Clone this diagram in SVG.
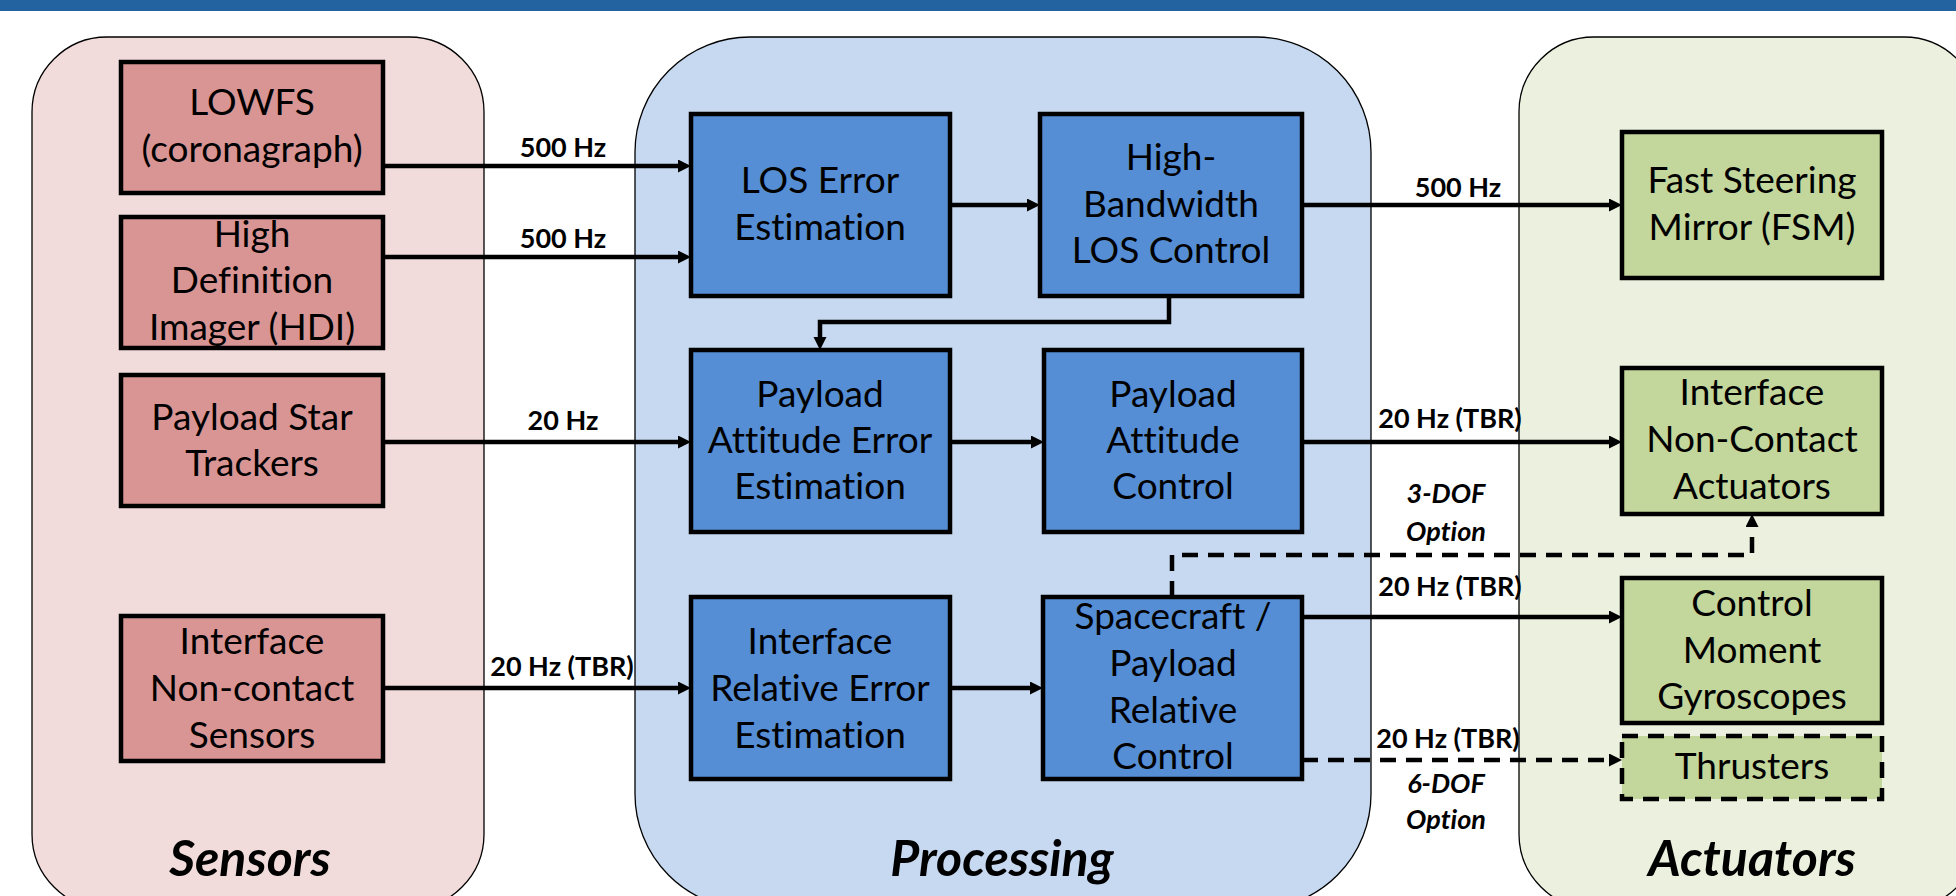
<svg xmlns="http://www.w3.org/2000/svg" width="1956" height="896" viewBox="0 0 1956 896">
<defs>
<style>
text{font-variant-ligatures:none;font-feature-settings:"liga" 0}
.panel{stroke:#000;stroke-width:1.3}
.sbox{fill:#d99594;stroke:#000;stroke-width:4.5}
.pbox{fill:#558ed5;stroke:#000;stroke-width:4.5}
.abox{fill:#c3d69b;stroke:#000;stroke-width:4.5}
.t{font-family:Lato,"Liberation Sans",sans-serif;font-size:37px;fill:#000;text-anchor:middle}
.lbl{font-family:Lato,"Liberation Sans",sans-serif;font-size:27px;font-weight:bold;fill:#000;text-anchor:middle}
.opt{font-family:Lato,"Liberation Sans",sans-serif;font-size:27px;font-weight:bold;font-style:italic;fill:#000;text-anchor:middle}
.title{font-family:Lato,"Liberation Sans",sans-serif;font-size:50px;font-weight:bold;font-style:italic;fill:#000;text-anchor:middle}
.c{fill:none;stroke:#000;stroke-width:4.5}
.d{fill:none;stroke:#000;stroke-width:4.5;stroke-dasharray:16 10}
</style>
<marker id="ah" markerUnits="userSpaceOnUse" markerWidth="14" markerHeight="14" refX="3" refY="6.5" orient="auto">
<path d="M0,0 L13,6.5 L0,13 z" fill="#000"/>
</marker>
</defs>
<rect x="0" y="0" width="1956" height="11" fill="#2364a0"/>

<g id="panel-sensors">
<rect class="panel" x="32" y="37" width="452" height="872" rx="75" ry="75" fill="#f2dcdb"/>
<text class="title" x="250" y="876">Sensors</text>
</g>
<g id="panel-processing">
<rect class="panel" x="635" y="37" width="736" height="872" rx="115" ry="115" fill="#c6d9f1"/>
<text class="title" x="1002" y="876">Processing</text>
</g>
<g id="panel-actuators">
<rect class="panel" x="1519" y="37" width="460" height="872" rx="75" ry="75" fill="#ebf1de"/>
<text class="title" x="1752" y="876">Actuators</text>
</g>

<g id="lowfs"><rect class="sbox" x="121" y="62" width="262" height="131"/>
<text class="t" x="252" y="115">LOWFS</text><text class="t" x="252" y="162">(coronagraph)</text></g>
<g id="hdi"><rect class="sbox" x="121" y="217" width="262" height="131"/>
<text class="t" x="252" y="247">High</text><text class="t" x="252" y="293">Definition</text><text class="t" x="252" y="340">Imager (HDI)</text></g>
<g id="star-trackers"><rect class="sbox" x="121" y="375" width="262" height="131"/>
<text class="t" x="252" y="430">Payload Star</text><text class="t" x="252" y="476">Trackers</text></g>
<g id="interface-sensors"><rect class="sbox" x="121" y="616" width="262" height="145"/>
<text class="t" x="252" y="654">Interface</text><text class="t" x="252" y="701">Non-contact</text><text class="t" x="252" y="748">Sensors</text></g>

<g id="los-error"><rect class="pbox" x="691" y="114" width="259" height="182"/>
<text class="t" x="820" y="193">LOS Error</text><text class="t" x="820" y="240">Estimation</text></g>
<g id="hbw-los"><rect class="pbox" x="1040" y="114" width="262" height="182"/>
<text class="t" x="1171" y="170">High-</text><text class="t" x="1171" y="217">Bandwidth</text><text class="t" x="1171" y="263">LOS Control</text></g>
<g id="payload-att-err"><rect class="pbox" x="691" y="350" width="259" height="182"/>
<text class="t" x="820" y="407">Payload</text><text class="t" x="820" y="453">Attitude Error</text><text class="t" x="820" y="499">Estimation</text></g>
<g id="payload-att-ctrl"><rect class="pbox" x="1044" y="350" width="258" height="182"/>
<text class="t" x="1173" y="407">Payload</text><text class="t" x="1173" y="453">Attitude</text><text class="t" x="1173" y="499">Control</text></g>
<g id="interface-rel-err"><rect class="pbox" x="691" y="597" width="259" height="182"/>
<text class="t" x="820" y="654">Interface</text><text class="t" x="820" y="701">Relative Error</text><text class="t" x="820" y="748">Estimation</text></g>
<g id="sc-rel-ctrl"><rect class="pbox" x="1043" y="597" width="259" height="182"/>
<text class="t" x="1173" y="629">Spacecraft /</text><text class="t" x="1173" y="676">Payload</text><text class="t" x="1173" y="723">Relative</text><text class="t" x="1173" y="769">Control</text></g>

<g id="fsm"><rect class="abox" x="1622" y="132" width="260" height="146"/>
<text class="t" x="1752" y="193">Fast Steering</text><text class="t" x="1752" y="240">Mirror (FSM)</text></g>
<g id="nc-actuators"><rect class="abox" x="1622" y="368" width="260" height="146"/>
<text class="t" x="1752" y="405">Interface</text><text class="t" x="1752" y="452">Non-Contact</text><text class="t" x="1752" y="499">Actuators</text></g>
<g id="cmg"><rect class="abox" x="1622" y="578" width="260" height="145"/>
<text class="t" x="1752" y="616">Control</text><text class="t" x="1752" y="663">Moment</text><text class="t" x="1752" y="709">Gyroscopes</text></g>
<g id="thrusters"><rect class="abox" x="1622" y="736" width="260" height="63" style="stroke-dasharray:16 10"/>
<text class="t" x="1752" y="779">Thrusters</text></g>

<g id="connectors">
<path class="c" d="M383,166 H681" marker-end="url(#ah)"/>
<path class="c" d="M383,257 H681" marker-end="url(#ah)"/>
<path class="c" d="M383,442 H681" marker-end="url(#ah)"/>
<path class="c" d="M383,688 H681" marker-end="url(#ah)"/>
<path class="c" d="M950,205 H1030" marker-end="url(#ah)"/>
<path class="c" d="M1169,296 V322 H820 V340" marker-end="url(#ah)"/>
<path class="c" d="M950,442 H1034" marker-end="url(#ah)"/>
<path class="c" d="M950,688 H1033" marker-end="url(#ah)"/>
<path class="c" d="M1302,205 H1612" marker-end="url(#ah)"/>
<path class="c" d="M1302,442 H1612" marker-end="url(#ah)"/>
<path class="d" d="M1172,597 V555 H1752 V524" marker-end="url(#ah)"/>
<path class="c" d="M1302,617 H1612" marker-end="url(#ah)"/>
<path class="d" d="M1302,760 H1612" marker-end="url(#ah)"/>
<text class="lbl" x="563" y="157">500 Hz</text>
<text class="lbl" x="563" y="248">500 Hz</text>
<text class="lbl" x="563" y="430">20 Hz</text>
<text class="lbl" x="562" y="676">20 Hz (TBR)</text>
<text class="lbl" x="1458" y="197">500 Hz</text>
<text class="lbl" x="1450" y="428">20 Hz (TBR)</text>
<text class="opt" x="1446" y="503">3-DOF</text>
<text class="opt" x="1446" y="541">Option</text>
<text class="lbl" x="1450" y="596">20 Hz (TBR)</text>
<text class="lbl" x="1448" y="748">20 Hz (TBR)</text>
<text class="opt" x="1446" y="793">6-DOF</text>
<text class="opt" x="1446" y="829">Option</text>
</g>
</svg>
